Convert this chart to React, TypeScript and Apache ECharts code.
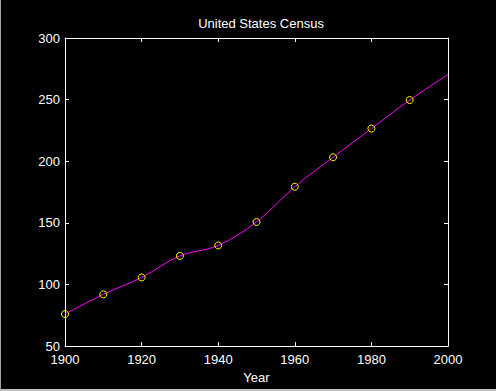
import React, { useEffect, useRef } from "react";
import * as echarts from "echarts";

const years = [1900, 1910, 1920, 1930, 1940, 1950, 1960, 1970, 1980, 1990];
const population = [75.995, 91.972, 105.711, 123.203, 131.669, 150.697, 179.323, 203.212, 226.505, 249.633];
const curveYears = [1900, 1910, 1920, 1930, 1940, 1950, 1960, 1970, 1980, 1990, 2000];
const curveValues = [75.995, 91.972, 105.711, 123.203, 131.669, 150.697, 179.323, 203.212, 226.505, 249.633, 270.4];
const xTicks = [1900, 1920, 1940, 1960, 1980, 2000];
const yTicks = [50, 100, 150, 200, 250, 300];

const FONT = "Liberation Sans, Arial, sans-serif";

export default function App() {
  const ref = useRef<HTMLDivElement>(null);
  useEffect(() => {
    if (!ref.current) return;
    const chart = echarts.init(ref.current, null, { renderer: "svg" });
    const axisCommon = {
      type: "value" as const,
      axisLine: { show: true, onZero: false, lineStyle: { color: "#ffffff", width: 1 } },
      axisTick: { show: true, inside: true, length: 4, lineStyle: { color: "#ffffff", width: 1 } },
      splitLine: { show: false },
    };
    chart.setOption({
      animation: false,
      backgroundColor: "#000000",
      title: {
        text: "United States Census",
        left: 255,
        textAlign: "center",
        top: 12,
        textStyle: { color: "#ffffff", fontSize: 13, fontWeight: "normal", fontFamily: FONT },
      },
      grid: { left: 64, right: 48, top: 38, bottom: 35, containLabel: false },
      xAxis: [
        {
          ...axisCommon,
          position: "bottom",
          min: xTicks[0],
          max: xTicks[xTicks.length - 1],
          interval: 20,
          name: "Year",
          nameLocation: "middle",
          nameGap: 17,
          nameTextStyle: { color: "#ffffff", fontSize: 13, fontFamily: FONT, lineHeight: 13 },
          axisLabel: {
            color: "#ffffff",
            fontSize: 13,
            fontFamily: FONT,
            lineHeight: 11,
            margin: 8,
            formatter: (v: number) => String(v),
          },
        },
        {
          ...axisCommon,
          position: "top",
          min: xTicks[0],
          max: xTicks[xTicks.length - 1],
          interval: 20,
          axisLabel: { show: false },
        },
      ],
      yAxis: [
        {
          ...axisCommon,
          position: "left",
          min: yTicks[0],
          max: yTicks[yTicks.length - 1],
          interval: 50,
          axisLabel: { color: "#ffffff", fontSize: 13, fontFamily: FONT, lineHeight: 11, margin: 5 },
        },
        {
          ...axisCommon,
          position: "right",
          min: yTicks[0],
          max: yTicks[yTicks.length - 1],
          interval: 50,
          axisLabel: { show: false },
        },
      ],
      series: [
        {
          type: "line",
          data: curveYears.map((y, i) => [y, curveValues[i]]),
          smooth: 0.35,
          showSymbol: false,
          lineStyle: { color: "#ff00ff", width: 1 },
          z: 2,
        },
        {
          type: "scatter",
          data: years.map((y, i) => [y, population[i]]),
          symbol: "circle",
          symbolSize: 7,
          itemStyle: { color: "rgba(0,0,0,0)", borderColor: "#ffff00", borderWidth: 1, opacity: 1 },
          emphasis: { disabled: true },
          z: 3,
        },
      ],
    });
    return () => chart.dispose();
  }, []);
  return (
    <div
      style={{
        position: "fixed",
        left: 0,
        top: 0,
        width: 496,
        height: 391,
        background: "#000",
        boxSizing: "border-box",
        borderLeft: "1px solid #a0a0a0",
        borderBottom: "2px solid #c0c0c0",
        overflow: "hidden",
      }}
    >
      <div ref={ref} style={{ width: 495, height: 389 }} />
    </div>
  );
}
